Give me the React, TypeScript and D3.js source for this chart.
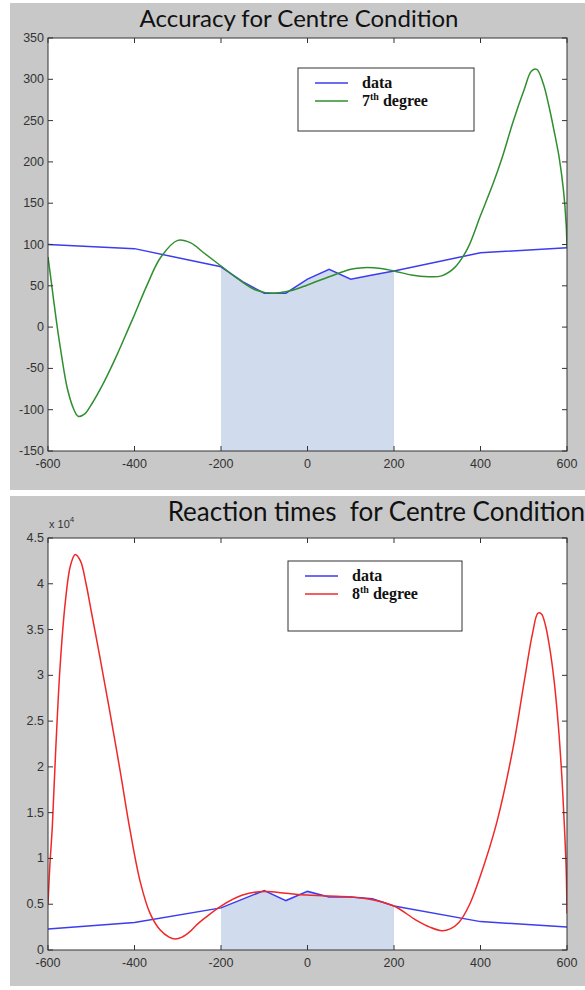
import { useEffect, useRef } from "react"
import * as d3 from "d3"

// accuracy panel
const accX = [-600, -400, -200, -150, -100, -50, 0, 50, 100, 150, 200, 400, 600]
const accData = [100, 95, 73, 55, 41, 41, 58, 70, 58, 63, 68, 90, 96]

const accFitX = [
  -600, -590, -580, -570, -555, -540, -530, -515, -500, -470, -440, -415, -400, -370, -340, -300, -270, -240, -200,
  -160, -120, -80, -40, 0, 50, 100, 130, 170, 200, 240, 280, 310, 340, 370, 400, 430, 450, 475, 500, 518, 530, 545,
  558, 570, 582, 592, 598, 600,
]
const accFit = [
  85, 45, 5, -30, -75, -100, -108, -105, -94, -66, -33, -3, 15, 52, 84, 105, 102, 90, 74, 58, 45, 41, 44, 51, 61, 70,
  72, 71, 68, 63, 61, 62, 72, 95, 135, 175, 205, 248, 286, 310, 312, 295, 268, 238, 205, 165, 125, 96,
]

// reaction time panel
const rtX = [-600, -400, -200, -100, -50, 0, 50, 100, 150, 200, 400, 600]
const rtData = [2300, 3000, 4600, 6500, 5400, 6400, 5800, 5800, 5600, 4800, 3100, 2500]

const rtFitX = [
  -600, -596, -590, -582, -572, -560, -548, -537, -525, -512, -500, -480, -457, -433, -410, -387, -364, -341, -320,
  -306, -290, -272, -255, -237, -200, -150, -100, -50, 0, 50, 100, 150, 200, 250, 283, 311, 330, 350, 375, 399, 438,
  475, 500, 520, 533, 541, 550, 560, 570, 580, 588, 594, 598, 600,
]
const rtFit = [
  5000, 9000, 13500, 22000, 31000, 38000, 42000, 43200, 42500, 40000, 37000, 32000, 26000, 19500, 13000, 7500, 4000,
  2200, 1400, 1200, 1400, 2000, 2800, 3500, 4800, 6000, 6400, 6200, 6000, 5900, 5800, 5500, 4800, 3300, 2500, 2100,
  2300, 3000, 5000, 8000, 14000, 22000, 29000, 34500, 36800, 36700, 35500, 33000, 29500, 24500, 19000, 13500, 9000,
  4000,
]

const xTicks = [-600, -400, -200, 0, 200, 400, 600]
const accTicks = [-150, -100, -50, 0, 50, 100, 150, 200, 250, 300, 350]
const rtTicks = [0, 5000, 10000, 15000, 20000, 25000, 30000, 35000, 40000, 45000]

interface Panel {
  title: string
  titleX: number
  titleY: number
  titleSize: number
  titleAnchor: string
  bg: [number, number, number, number]
  box: { left: number; right: number; top: number; bottom: number }
  yDomain: [number, number]
  yTicks: number[]
  yFmt: (d: number) => string
  data: { x: number[]; y: number[] }
  fit: { x: number[]; y: number[] }
  fitColor: string
  fitLabel: string
  legend: { x: number; y: number; w: number; h: number }
  exponent?: boolean
}

const panels: Panel[] = [
  {
    title: "Accuracy for Centre Condition",
    titleX: 299,
    titleY: 27,
    titleSize: 24,
    titleAnchor: "middle",
    bg: [10, 3, 575, 487],
    box: { left: 48, right: 567, top: 38, bottom: 451 },
    yDomain: [-150, 350],
    yTicks: accTicks,
    yFmt: (d) => String(d),
    data: { x: accX, y: accData },
    fit: { x: accFitX, y: accFit },
    fitColor: "#2f8f2f",
    fitLabel: "7",
    legend: { x: 298, y: 68, w: 176, h: 63 },
  },
  {
    title: "Reaction times  for Centre Condition",
    titleX: 585,
    titleY: 521,
    titleSize: 26,
    titleAnchor: "end",
    bg: [10, 496, 575, 490],
    box: { left: 48, right: 567, top: 538, bottom: 950 },
    yDomain: [0, 45000],
    yTicks: rtTicks,
    yFmt: (d) => (d === 0 ? "0" : String(d / 10000)),
    data: { x: rtX, y: rtData },
    fit: { x: rtFitX, y: rtFit },
    fitColor: "#f02828",
    fitLabel: "8",
    legend: { x: 288, y: 561, w: 174, h: 70 },
    exponent: true,
  },
]

export default function App() {
  const svgRef = useRef<SVGSVGElement>(null)

  useEffect(() => {
    if (!svgRef.current) return
    const svg = d3.select(svgRef.current)
    svg.selectAll("*").remove()

    panels.forEach((p, i) => {
      const g = svg.append("g")
      const { left, right, top, bottom } = p.box

      g.append("rect")
        .attr("x", p.bg[0])
        .attr("y", p.bg[1])
        .attr("width", p.bg[2])
        .attr("height", p.bg[3])
        .attr("fill", "#c8c8c8")

      const x = d3.scaleLinear().domain([-600, 600]).range([left, right])
      const y = d3.scaleLinear().domain(p.yDomain).range([bottom, top])

      g.append("rect")
        .attr("x", left)
        .attr("y", top)
        .attr("width", right - left)
        .attr("height", bottom - top)
        .attr("fill", "#fff")

      const clipId = `clip-${i}`
      g.append("clipPath")
        .attr("id", clipId)
        .append("rect")
        .attr("x", left)
        .attr("y", top)
        .attr("width", right - left)
        .attr("height", bottom - top)

      const pts = p.data.x.map((d, k) => [d, p.data.y[k]] as [number, number])
      const fitPts = p.fit.x.map((d, k) => [d, p.fit.y[k]] as [number, number])

      // shaded centre region under the data
      const shade = pts.filter((d) => d[0] >= -200 && d[0] <= 200)
      g.append("path")
        .attr("d",
          d3.area<[number, number]>()
            .x((d) => x(d[0]))
            .y0(bottom)
            .y1((d) => y(d[1]))(shade),
        )
        .attr("fill", "#d0dcee")

      const plot = g.append("g").attr("clip-path", `url(#${clipId})`)

      plot.append("path")
        .attr("d", d3.line<[number, number]>().x((d) => x(d[0])).y((d) => y(d[1]))(pts))
        .attr("fill", "none")
        .attr("stroke", "#3c3cf0")
        .attr("stroke-width", 1.5)

      plot.append("path")
        .attr("d",
          d3.line<[number, number]>()
            .curve(d3.curveCatmullRom.alpha(0.5))
            .x((d) => x(d[0]))
            .y((d) => y(d[1]))(fitPts),
        )
        .attr("fill", "none")
        .attr("stroke", p.fitColor)
        .attr("stroke-width", 1.5)

      // axes box and inward ticks
      const axisColor = "#333"
      g.append("rect")
        .attr("x", left)
        .attr("y", top)
        .attr("width", right - left)
        .attr("height", bottom - top)
        .attr("fill", "none")
        .attr("stroke", axisColor)
        .attr("stroke-width", 1)

      xTicks.forEach((t) => {
        g.append("line").attr("x1", x(t)).attr("x2", x(t)).attr("y1", bottom).attr("y2", bottom - 5)
          .attr("stroke", axisColor)
        g.append("line").attr("x1", x(t)).attr("x2", x(t)).attr("y1", top).attr("y2", top + 5)
          .attr("stroke", axisColor)
        g.append("text")
          .attr("x", x(t))
          .attr("y", bottom + 17)
          .attr("text-anchor", "middle")
          .attr("font-family", "Liberation Sans, Arial, sans-serif")
          .attr("font-size", 12.5)
          .attr("fill", "#333")
          .text(t)
      })

      p.yTicks.forEach((t) => {
        g.append("line").attr("x1", left).attr("x2", left + 5).attr("y1", y(t)).attr("y2", y(t))
          .attr("stroke", axisColor)
        g.append("line").attr("x1", right).attr("x2", right - 5).attr("y1", y(t)).attr("y2", y(t))
          .attr("stroke", axisColor)
        g.append("text")
          .attr("x", left - 4)
          .attr("y", y(t) + 4)
          .attr("text-anchor", "end")
          .attr("font-family", "Liberation Sans, Arial, sans-serif")
          .attr("font-size", 12.5)
          .attr("fill", "#333")
          .text(p.yFmt(t))
      })

      if (p.exponent) {
        const e = g.append("text")
          .attr("x", left + 1)
          .attr("y", top - 10)
          .attr("font-family", "Liberation Sans, Arial, sans-serif")
          .attr("font-size", 11)
          .attr("fill", "#333")
        e.append("tspan").text("x 10")
        e.append("tspan").attr("font-size", 8).attr("dy", -6).text("4")
      }

      g.append("text")
        .attr("x", p.titleX)
        .attr("y", p.titleY)
        .attr("text-anchor", p.titleAnchor)
        .attr("font-family", "Lato, sans-serif")
        .attr("font-size", p.titleSize)
        .attr("fill", "#111")
        .style("white-space", "pre")
        .text(p.title)

      // legend
      const L = p.legend
      const lg = g.append("g").attr("transform", `translate(${L.x}, ${L.y})`)
      lg.append("rect").attr("width", L.w).attr("height", L.h).attr("fill", "#fff").attr("stroke", "#333")
      const rows = [
        { color: "#3c3cf0", label: "data" },
        { color: p.fitColor, label: p.fitLabel },
      ]
      rows.forEach((r, k) => {
        const ry = 15 + k * 18
        lg.append("line").attr("x1", 17).attr("x2", 50).attr("y1", ry).attr("y2", ry)
          .attr("stroke", r.color).attr("stroke-width", 1.5)
        const t = lg.append("text")
          .attr("x", 64)
          .attr("y", ry + 5)
          .attr("font-family", "Liberation Serif, Times New Roman, serif")
          .attr("font-weight", "bold")
          .attr("font-size", 16)
          .attr("fill", "#111")
        if (k === 0) {
          t.text(r.label)
        } else {
          t.append("tspan").text(r.label)
          t.append("tspan").attr("font-size", 10).attr("dy", -6).text("th")
          t.append("tspan").attr("dy", 6).text(" degree")
        }
      })
    })
  }, [])

  return (
    <svg
      ref={svgRef}
      width={585}
      height={990}
      style={{ position: "absolute", left: 0, top: 0, background: "#fff" }}
    />
  )
}
